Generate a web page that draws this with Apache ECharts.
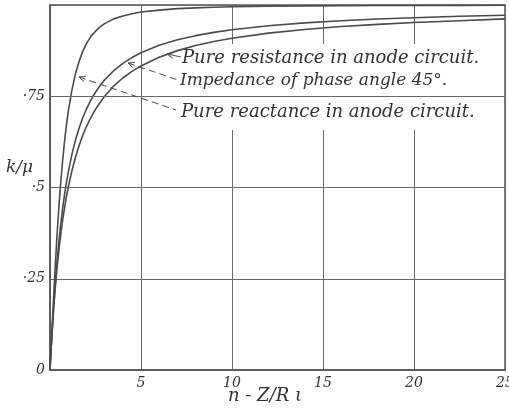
<!DOCTYPE html>
<html>
<head>
<meta charset="utf-8">
<script src="https://cdn.jsdelivr.net/npm/echarts@6/dist/echarts.min.js"></script>
<style>html,body{margin:0;padding:0;background:#fff;}#c{width:509px;height:411px;}</style>
</head>
<body>
<div id="c"></div>
<script>
// n = Z/Ri
const nValues = [0, 0.05, 0.1, 0.2, 0.3, 0.4, 0.5, 0.6, 0.7, 0.8, 0.9, 1, 1.2, 1.4, 1.6, 1.8, 2, 2.25, 2.5, 2.75, 3, 3.5, 4, 4.5, 5, 6, 7, 8, 9, 10, 12, 14, 16, 18, 20, 22.5, 25];
// k/mu, pure reactance in anode circuit
const reactance = [0, 0.05, 0.1, 0.2, 0.295, 0.38, 0.455, 0.52, 0.577, 0.627, 0.67, 0.707, 0.766, 0.812, 0.846, 0.873, 0.894, 0.914, 0.928, 0.94, 0.949, 0.962, 0.970, 0.976, 0.981, 0.986, 0.990, 0.992, 0.994, 0.995, 0.9965, 0.9975, 0.998, 0.9985, 0.9988, 0.999, 0.9992];
// k/mu, impedance of phase angle 45 deg
const impedance45 = [0, 0.048, 0.093, 0.174, 0.244, 0.304, 0.357, 0.404, 0.445, 0.481, 0.513, 0.541, 0.59, 0.63, 0.663, 0.691, 0.715, 0.74, 0.761, 0.779, 0.795, 0.82, 0.84, 0.856, 0.869, 0.89, 0.905, 0.916, 0.925, 0.932, 0.943, 0.951, 0.957, 0.9615, 0.965, 0.969, 0.972];
// k/mu, pure resistance in anode circuit
const resistance = [0, 0.048, 0.091, 0.167, 0.231, 0.286, 0.333, 0.375, 0.412, 0.444, 0.474, 0.5, 0.545, 0.583, 0.615, 0.643, 0.667, 0.692, 0.714, 0.733, 0.75, 0.778, 0.8, 0.818, 0.833, 0.857, 0.875, 0.889, 0.9, 0.909, 0.923, 0.933, 0.941, 0.947, 0.952, 0.957, 0.962];

const xTicks = ['', '5', '10', '15', '20', '25'];
const yTickLabels = {0: '0', 0.25: '·25', 0.5: '·5', 0.75: '·75', 1: ''};

const labelResistance = 'Pure resistance in anode circuit.';
const labelImpedance = 'Impedance of phase angle 45°.';
const labelReactance = 'Pure reactance in anode circuit.';
const xName = 'n - Z/R ι';
const yName = 'k/μ';

const ink = '#4a4a4a';
const gridCol = '#6a6a6a';
const font = "'DejaVu Serif', serif";

function pairs(ys) { return nValues.map((n, i) => [n, ys[i]]); }

function arrow(tip, tail, dashed) {
  const dx = tail[0] - tip[0], dy = tail[1] - tip[1];
  const L = Math.hypot(dx, dy), ux = dx / L, uy = dy / L;
  const a = 0.42, len = 7;
  const w1 = [tip[0] + len * (ux * Math.cos(a) - uy * Math.sin(a)), tip[1] + len * (ux * Math.sin(a) + uy * Math.cos(a))];
  const w2 = [tip[0] + len * (ux * Math.cos(-a) - uy * Math.sin(-a)), tip[1] + len * (ux * Math.sin(-a) + uy * Math.cos(-a))];
  const st = {stroke: ink, lineWidth: 1};
  return [
    {type: 'line', z: 10, shape: {x1: tip[0], y1: tip[1], x2: tail[0], y2: tail[1]}, style: Object.assign({}, st, dashed ? {lineDash: [7, 4]} : {})},
    {type: 'polyline', z: 10, shape: {points: [w1, tip, w2]}, style: Object.assign({}, st, {fill: null})}
  ];
}

function label(text, x, y, size) {
  return {type: 'text', z: 10, x: x, y: y, style: {text: text, font: 'italic ' + size + "px 'DejaVu Serif'", fill: '#333', verticalAlign: 'middle', align: 'left'}};
}

const chart = echarts.init(document.getElementById('c'), null, {renderer: 'canvas'});
const lineStyle = {color: ink, width: 1.6};
const txt = {fontFamily: font, fontStyle: 'italic', fontSize: 14, color: '#333'};

chart.setOption({
  backgroundColor: '#fff',
  animation: false,
  grid: {left: 50, right: 4, top: 5, bottom: 41, show: true, borderColor: '#555', borderWidth: 1.5, outerBoundsMode: 'none', containLabel: false},
  xAxis: {
    type: 'value', min: 0, max: 25, interval: 5,
    axisLine: {show: true, lineStyle: {color: '#555', width: 1.5}},
    axisTick: {show: false},
    splitLine: {show: true, lineStyle: {color: gridCol, width: 1}},
    axisLabel: Object.assign({}, txt, {margin: 6, hideOverlap: false, formatter: v => xTicks[Math.round(v / 5)]})
  },
  yAxis: {
    type: 'value', min: 0, max: 1, interval: 0.25,
    axisLine: {show: true, lineStyle: {color: '#555', width: 1.5}},
    axisTick: {show: false},
    splitLine: {show: true, lineStyle: {color: gridCol, width: 1}},
    axisLabel: Object.assign({}, txt, {margin: 5, formatter: v => yTickLabels[v] !== undefined ? yTickLabels[v] : ''})
  },
  series: [
    {type: 'line', data: pairs(reactance), smooth: false, showSymbol: false, lineStyle: lineStyle, z: 3,
     markLine: {silent: true, symbol: ['none', 'none'], label: {show: false}, lineStyle: {color: gridCol, width: 1, type: 'solid'}, data: [{yAxis: 0.75}]}},
    {type: 'line', data: pairs(impedance45), smooth: false, showSymbol: false, lineStyle: lineStyle, z: 3},
    {type: 'line', data: pairs(resistance), smooth: false, showSymbol: false, lineStyle: lineStyle, z: 3}
  ],
  graphic: [
    {type: 'rect', z: 1, shape: {x: 178, y: 44, width: 322, height: 86}, style: {fill: '#fff'}},
    label(labelResistance, 182, 58, 18),
    label(labelImpedance, 180, 81, 17),
    label(labelReactance, 181, 112, 18),
    label(xName, 228, 396, 18),
    label(yName, 6, 168, 17)
  ].concat(arrow([167, 54], [181, 57], false))
   .concat(arrow([128, 63], [178, 80], true))
   .concat(arrow([79, 77], [176, 110], true))
});
</script>
</body>
</html>
